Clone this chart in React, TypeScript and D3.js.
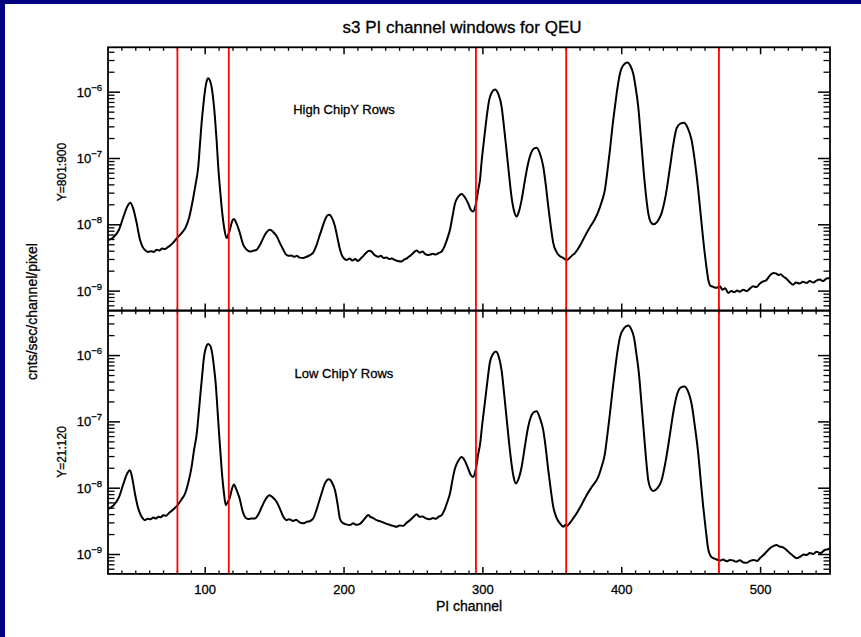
import React from "react";
import * as d3 from "d3";

// ---------- data ----------
const piDomain: [number, number] = [30, 550];
const yDomain: [number, number] = [5.1e-10, 4.75e-6];
const xTickValues = [100, 200, 300, 400, 500];
const yDecades = [-9, -8, -7, -6];
const windowEdges = [80, 117, 295, 360, 470];
const panelNames = ["High ChipY Rows", "Low ChipY Rows"];
const panelRowLabels = ["Y=801:900", "Y=21:120"];

// [PI channel, cnts/sec/channel/pixel] — High ChipY rows (Y=801:900)
const highChipY: [number, number][] = [
  [30, 5.9e-9], [34, 6.5e-9], [38, 8.5e-9], [41, 1.3e-8], [44, 1.9e-8], [46, 2.15e-8], [48, 1.8e-8],
  [50.5, 1.1e-8], [53, 6.0e-9], [55, 4.6e-9], [57, 4.1e-9], [59, 3.9e-9], [61, 4.0e-9], [63, 3.9e-9],
  [65, 4.2e-9], [67, 4.1e-9], [69, 4.4e-9], [71, 4.3e-9], [73, 4.6e-9], [75, 4.9e-9], [77, 5.4e-9],
  [80, 6.4e-9], [83, 7.5e-9], [86, 9.2e-9], [88.5, 1.3e-8], [91, 2.3e-8], [93, 4.0e-8], [95, 7.5e-8],
  [96.2, 1.6e-7], [97.4, 3.4e-7], [98.7, 6.5e-7], [99.9, 1.07e-6], [101, 1.45e-6], [102.2, 1.62e-6],
  [103.4, 1.5e-6], [104.6, 1.2e-6], [105.8, 7.8e-7], [107, 4.25e-7], [108.2, 1.9e-7], [109.4, 7.5e-8],
  [110.6, 3.6e-8], [111.8, 1.9e-8], [113.5, 9.5e-9], [115.4, 6.3e-9], [116.5, 7.0e-9], [117.8, 8.4e-9],
  [119.2, 1.1e-8], [120.7, 1.22e-8], [122.5, 1.05e-8], [124.6, 8.0e-9], [127.4, 5.0e-9], [129.5, 4.3e-9],
  [132.3, 3.95e-9], [134.5, 4.05e-9], [137, 4.2e-9], [139.5, 5.0e-9], [141.8, 6.3e-9], [144, 7.6e-9],
  [146.7, 8.4e-9], [149, 7.8e-9], [151.5, 6.7e-9], [154, 5.2e-9], [156.3, 4.2e-9], [158, 3.6e-9],
  [160, 3.4e-9], [162, 3.45e-9], [164, 3.3e-9], [166, 3.4e-9], [168, 3.2e-9], [170.6, 3.15e-9],
  [173, 3.3e-9], [175.5, 3.5e-9], [177.8, 3.8e-9], [180, 4.8e-9], [182, 6.5e-9], [183.8, 8.4e-9],
  [186, 1.15e-8], [188, 1.38e-8], [189.4, 1.42e-8], [191.5, 1.25e-8], [193.5, 9.4e-9], [195.5, 6.0e-9],
  [197, 4.3e-9], [199, 3.3e-9], [201.9, 2.95e-9], [204, 3.1e-9], [206, 2.9e-9], [208, 3.05e-9],
  [210, 2.85e-9], [212, 3.1e-9], [214, 3.4e-9], [216, 3.8e-9], [218.1, 4.05e-9], [220, 3.9e-9],
  [222, 3.5e-9], [224.6, 3.3e-9], [226.5, 3.4e-9], [228.5, 3.15e-9], [230.6, 3.2e-9], [232.5, 3.05e-9],
  [234.5, 3.1e-9], [236.5, 2.95e-9], [238.5, 2.85e-9], [241.4, 2.8e-9], [243.5, 3.0e-9], [245.5, 3.15e-9],
  [247.5, 3.4e-9], [249.5, 3.7e-9], [252.3, 4.1e-9], [254.5, 3.8e-9], [256.5, 3.95e-9], [258.5, 3.6e-9],
  [260.5, 3.5e-9], [262, 3.55e-9], [264, 3.65e-9], [266, 3.55e-9], [268, 3.75e-9], [270.3, 3.95e-9],
  [272.5, 4.8e-9], [274.5, 6.3e-9], [276.3, 8.4e-9], [278, 1.3e-8], [279.9, 2.1e-8], [282, 2.6e-8],
  [284.7, 2.92e-8], [287, 2.6e-8], [289.4, 2.1e-8], [291.2, 1.7e-8], [293, 1.58e-8], [294.8, 2.0e-8],
  [296.7, 3.4e-8], [297.9, 4.75e-8], [299.1, 9.0e-8], [300.8, 1.9e-7], [302.6, 4.0e-7], [304.5, 7.6e-7],
  [306.5, 1.0e-6], [308.7, 1.1e-6], [311, 9.5e-7], [313.5, 6.0e-7], [315.2, 3.0e-7], [317, 1.34e-7],
  [318.8, 5.8e-8], [320.6, 2.66e-8], [322.5, 1.6e-8], [324.3, 1.33e-8], [326, 1.6e-8], [327.9, 2.38e-8],
  [330.2, 4.6e-8], [332.6, 8.5e-8], [335, 1.25e-7], [337, 1.42e-7], [338.7, 1.45e-7], [341, 1.2e-7],
  [343.5, 7.5e-8], [345.3, 4.0e-8], [347.1, 1.88e-8], [348.9, 9.5e-9], [350.7, 5.3e-9], [353, 3.9e-9],
  [355.5, 3.35e-9], [357.5, 3.2e-9], [359, 3.05e-9], [360.3, 2.95e-9], [362, 3.1e-9], [364, 3.4e-9],
  [366.3, 3.75e-9], [369, 4.5e-9], [371.5, 5.6e-9], [374.7, 7.5e-9], [377.5, 9.5e-9], [380.5, 1.2e-8],
  [383.1, 1.58e-8], [385.5, 2.2e-8], [387.9, 3.4e-8], [389.7, 6.5e-8], [391.5, 1.34e-7], [393.3, 3.0e-7],
  [395.1, 6.0e-7], [396.9, 1.15e-6], [398.7, 1.9e-6], [401.5, 2.6e-6], [404.2, 2.8e-6], [406.2, 2.5e-6],
  [408.3, 1.9e-6], [410.1, 1.15e-6], [411.9, 6.0e-7], [413.7, 2.2e-7], [415.5, 7.5e-8], [417.3, 3.0e-8],
  [419.1, 1.5e-8], [420.9, 1.1e-8], [422.7, 1.02e-8], [425.7, 1.12e-8], [428.7, 1.5e-8], [431.7, 2.8e-8],
  [434.8, 7.5e-8], [437.1, 1.6e-7], [439.5, 2.84e-7], [442.2, 3.35e-7], [444.8, 3.45e-7], [447.5, 2.9e-7],
  [450.3, 1.9e-7], [452.7, 9.0e-8], [455.1, 3.36e-8], [456.9, 1.4e-8], [458.7, 5.95e-9], [460.5, 2.8e-9],
  [462.3, 1.5e-9], [464, 1.2e-9], [465.9, 1.16e-9], [468, 1.12e-9], [470.7, 1.18e-9], [472.5, 1.05e-9],
  [474.5, 1.1e-9], [476.7, 9.4e-10], [479, 1.0e-9], [481, 9.6e-10], [483, 1.02e-9], [485, 9.8e-10],
  [487.5, 1.05e-9], [490, 1.0e-9], [492.5, 1.1e-9], [494.7, 1.18e-9], [497, 1.15e-9], [499.5, 1.3e-9],
  [501.9, 1.4e-9], [504, 1.45e-9], [506.5, 1.7e-9], [509.1, 1.88e-9], [511, 1.85e-9], [513, 1.75e-9],
  [514.5, 1.8e-9], [516.2, 1.67e-9], [518.5, 1.55e-9], [520.5, 1.4e-9], [523.4, 1.25e-9], [525.5, 1.35e-9],
  [528, 1.3e-9], [530.5, 1.38e-9], [533.1, 1.33e-9], [535.5, 1.42e-9], [538, 1.35e-9], [540.5, 1.45e-9],
  [542.7, 1.49e-9], [545, 1.42e-9], [547.5, 1.55e-9], [550, 1.58e-9],
];

// [PI channel, cnts/sec/channel/pixel] — Low ChipY rows (Y=21:120)
const lowChipY: [number, number][] = [
  [30, 4.9e-9], [34, 5.5e-9], [38, 7.4e-9], [41, 1.15e-8], [44, 1.7e-8], [45.8, 1.87e-8], [47.5, 1.4e-8],
  [49.4, 8.3e-9], [51.2, 5.5e-9], [53, 4.2e-9], [55, 3.5e-9], [56.6, 3.3e-9], [58.5, 3.45e-9], [60.5, 3.4e-9],
  [62.6, 3.6e-9], [64.5, 3.5e-9], [66.5, 3.7e-9], [68, 3.65e-9], [69.8, 3.9e-9], [72, 3.85e-9], [73.8, 4.2e-9],
  [75.8, 4.55e-9], [78, 5.0e-9], [80.1, 5.55e-9], [83, 6.8e-9], [85.5, 8.3e-9], [88, 1.25e-8], [90.2, 2.1e-8],
  [92, 3.8e-8], [93.9, 6.6e-8], [95.4, 1.4e-7], [96.8, 2.98e-7], [98, 5.5e-7], [99.1, 9.4e-7], [100.7, 1.35e-6],
  [102.2, 1.5e-6], [103.7, 1.4e-6], [105.1, 1.06e-6], [106.4, 6.5e-7], [107.6, 3.75e-7], [108.8, 1.6e-7],
  [110, 6.65e-8], [111.2, 3.0e-8], [112.3, 1.48e-8], [113.5, 8.5e-9], [114.8, 5.55e-9], [116.3, 6.2e-9],
  [117.9, 7.4e-9], [119.3, 9.8e-9], [120.7, 1.14e-8], [122.5, 9.5e-9], [124.6, 7.2e-9], [127.4, 4.2e-9],
  [129, 3.6e-9], [131, 3.42e-9], [133.5, 3.5e-9], [135.8, 3.5e-9], [138.2, 4.0e-9], [140.7, 5.2e-9],
  [143.5, 6.8e-9], [146.2, 7.85e-9], [148.8, 7.2e-9], [151.5, 6.2e-9], [154, 4.8e-9], [156.3, 3.7e-9],
  [158.5, 3.3e-9], [160.5, 3.4e-9], [163.4, 3.2e-9], [165.5, 3.35e-9], [167.5, 3.1e-9], [170.6, 2.95e-9],
  [173, 3.1e-9], [175.5, 3.2e-9], [177.8, 3.5e-9], [180, 4.6e-9], [182, 6.3e-9], [183.8, 8.3e-9],
  [186, 1.15e-8], [189.2, 1.36e-8], [191.5, 1.2e-8], [193.5, 9.3e-9], [195.5, 5.5e-9], [197, 3.5e-9],
  [199, 3.0e-9], [201.5, 2.85e-9], [204.3, 2.78e-9], [206.5, 2.95e-9], [209, 2.8e-9], [211.5, 2.9e-9],
  [213.5, 3.2e-9], [215.5, 3.6e-9], [217.4, 3.95e-9], [219, 3.7e-9], [221, 3.55e-9], [223.4, 3.3e-9],
  [225.5, 3.2e-9], [228, 3.05e-9], [230.6, 2.9e-9], [233, 2.8e-9], [235.5, 2.7e-9], [237.8, 2.62e-9],
  [240, 2.75e-9], [242.5, 2.7e-9], [245, 3.0e-9], [247.5, 3.3e-9], [250, 3.7e-9], [252.3, 4.05e-9],
  [254.5, 3.7e-9], [256.5, 3.75e-9], [259, 3.5e-9], [261.9, 3.4e-9], [264, 3.55e-9], [266, 3.45e-9],
  [268, 3.7e-9], [270.3, 3.93e-9], [272.5, 4.8e-9], [274.5, 6.3e-9], [276.3, 8.3e-9], [278, 1.3e-8],
  [279.9, 1.98e-8], [282.3, 2.6e-8], [284.7, 2.96e-8], [287, 2.6e-8], [289.4, 1.98e-8], [291.2, 1.6e-8],
  [293, 1.48e-8], [294.8, 1.9e-8], [296.7, 3.33e-8], [297.9, 4.5e-8], [299.6, 9.5e-8], [301.5, 2.0e-7],
  [303.3, 4.2e-7], [305.1, 8.0e-7], [307.2, 1.05e-6], [309.4, 1.15e-6], [311.5, 9.5e-7], [313.5, 5.95e-7],
  [315.2, 2.8e-7], [317, 1.18e-7], [318.8, 5.0e-8], [320.6, 2.35e-8], [322.2, 1.45e-8], [323.8, 1.18e-8],
  [325.8, 1.4e-8], [327.9, 2.09e-8], [330.2, 4.2e-8], [332.6, 8.35e-8], [335, 1.25e-7], [337, 1.42e-7],
  [338.7, 1.45e-7], [341, 1.15e-7], [343.5, 7.45e-8], [345.3, 4.0e-8], [347.1, 1.87e-8], [348.9, 9.5e-9],
  [350.7, 5.24e-9], [353, 3.6e-9], [355.5, 2.94e-9], [357.9, 2.62e-9], [359.5, 2.8e-9], [360.5, 2.7e-9],
  [362.7, 3.0e-9], [365, 3.5e-9], [367.5, 4.17e-9], [371, 5.6e-9], [374.7, 7.85e-9], [378.5, 1.05e-8],
  [383.1, 1.48e-8], [385.5, 2.1e-8], [387.9, 3.33e-8], [389.7, 6.5e-8], [391.5, 1.33e-7], [393.3, 2.9e-7],
  [395.1, 5.95e-7], [396.9, 1.15e-6], [398.7, 1.88e-6], [401.7, 2.6e-6], [404.7, 2.83e-6], [406.8, 2.5e-6],
  [408.8, 1.88e-6], [410.6, 1.05e-6], [412.4, 5.3e-7], [414.2, 1.9e-7], [416, 6.65e-8], [417.5, 2.8e-8],
  [419.1, 1.32e-8], [420.9, 9.8e-9], [422.7, 9.1e-9], [425.7, 1.0e-8], [428.7, 1.32e-8], [431.7, 2.6e-8],
  [434.8, 6.65e-8], [437.4, 1.5e-7], [440, 2.65e-7], [442.5, 3.3e-7], [445, 3.42e-7], [447.7, 2.9e-7],
  [450.3, 1.88e-7], [452.7, 8.5e-8], [455.1, 3.33e-8], [456.9, 1.3e-8], [458.7, 5.24e-9], [460.5, 2.4e-9],
  [462.3, 1.2e-9], [464, 9.5e-10], [465.9, 8.8e-10], [468, 8.5e-10], [470.7, 8.1e-10], [473, 8.4e-10],
  [475.5, 7.9e-10], [478, 8.3e-10], [480.3, 8.1e-10], [482.5, 7.8e-10], [485, 8.2e-10], [487.5, 7.6e-10],
  [489.9, 7.5e-10], [492.5, 8.0e-10], [495, 8.3e-10], [497.5, 8.0e-10], [499.5, 8.8e-10], [502, 9.8e-10],
  [504.3, 1.1e-9], [507, 1.25e-9], [509.5, 1.35e-9], [511.5, 1.39e-9], [513.5, 1.32e-9], [515.5, 1.3e-9],
  [518.7, 1.17e-9], [521, 1.05e-9], [523.5, 9.5e-10], [525.9, 8.8e-10], [528.5, 9.2e-10], [531, 1.0e-9],
  [533.1, 9.8e-10], [535.5, 1.05e-9], [538, 1.02e-9], [540.3, 1.1e-9], [543, 1.05e-9], [546.3, 1.17e-9],
  [548.5, 1.2e-9], [550, 1.24e-9],
];

const panelSeries = [highChipY, lowChipY];

// ---------- layout ----------
const W = 861;
const H = 637;
const LEFT = 108;
const RIGHT = 830;
const PANEL_TOPS = [47.3, 310.7];
const PANEL_H = 263.2;
const FONT = "'Liberation Sans', Arial, Helvetica, sans-serif";
const ROW_LABEL_Y = [172, 452];
const NAME_Y = [114, 378];
const TXT = { fill: "#000", stroke: "#000", strokeWidth: 0.3 };

export default function App() {
  const x = d3.scaleLinear().domain(piDomain).range([LEFT, RIGHT]);

  const xMinor = d3.range(piDomain[0] + 10, piDomain[1], 10).filter((v) => v % 100 !== 0);
  const yMinor: number[] = [];
  for (let d = -10; d <= -5; d++) {
    for (let k = 2; k <= 9; k++) {
      const v = k * Math.pow(10, d);
      if (v > yDomain[0] && v < yDomain[1]) yMinor.push(v);
    }
  }

  const axisW = 1.8;

  return (
    <svg
      width={W}
      height={H}
      style={{ position: "absolute", left: 0, top: 0, background: "#fff" }}
      fontFamily={FONT}
    >
      <rect x={0} y={0} width={W} height={H} fill="#ffffff" />
      <rect x={0} y={0} width={5} height={H} fill="#000080" />
      <rect x={0} y={0} width={W} height={4} fill="#000080" />

      <text x={462} y={33} fontSize={17} textAnchor="middle" {...TXT}>
        s3 PI channel windows for QEU
      </text>

      {panelSeries.map((series, pi) => {
        const top = PANEL_TOPS[pi];
        const bottom = top + PANEL_H;
        const y = d3.scaleLog().domain(yDomain).range([bottom, top]);
        const line = d3
          .line<[number, number]>()
          .x((d) => x(d[0]))
          .y((d) => y(d[1]))
          .curve(d3.curveMonotoneX);
        return (
          <g key={pi}>
            <defs>
              <clipPath id={`clip${pi}`}>
                <rect x={LEFT} y={top} width={RIGHT - LEFT} height={PANEL_H} />
              </clipPath>
            </defs>
            <path
              d={line(series) || ""}
              fill="none"
              stroke="#000"
              strokeWidth={2}
              strokeLinejoin="round"
              clipPath={`url(#clip${pi})`}
            />
            {xTickValues.map((v) => (
              <g key={`xm${v}`} stroke="#000" strokeWidth={1.5}>
                <line x1={x(v)} x2={x(v)} y1={top} y2={top + 7} />
                <line x1={x(v)} x2={x(v)} y1={bottom} y2={bottom - 7} />
              </g>
            ))}
            {xMinor.map((v) => (
              <g key={`xn${v}`} stroke="#000" strokeWidth={1.3}>
                <line x1={x(v)} x2={x(v)} y1={top} y2={top + 3.5} />
                <line x1={x(v)} x2={x(v)} y1={bottom} y2={bottom - 3.5} />
              </g>
            ))}
            {yDecades.map((d) => {
              const yy = y(Math.pow(10, d));
              return (
                <g key={`ym${d}`}>
                  <line x1={LEFT} x2={LEFT + 12} y1={yy} y2={yy} stroke="#000" strokeWidth={1.5} />
                  <line x1={RIGHT} x2={RIGHT - 12} y1={yy} y2={yy} stroke="#000" strokeWidth={1.5} />
                  <text x={102} y={yy + 4.5} fontSize={13} textAnchor="end" {...TXT}>
                    <tspan>10</tspan>
                    <tspan fontSize={9.5} dy={-6}>{`\u2212${-d}`}</tspan>
                  </text>
                </g>
              );
            })}
            {yMinor.map((v, i) => {
              const yy = y(v);
              return (
                <g key={`yn${i}`} stroke="#000" strokeWidth={1.3}>
                  <line x1={LEFT} x2={LEFT + 6.5} y1={yy} y2={yy} />
                  <line x1={RIGHT} x2={RIGHT - 6.5} y1={yy} y2={yy} />
                </g>
              );
            })}
            <text x={344} y={NAME_Y[pi]} fontSize={13} textAnchor="middle" {...TXT}>
              {panelNames[pi]}
            </text>
            <text
              transform={`translate(66,${ROW_LABEL_Y[pi]}) rotate(-90)`}
              fontSize={12}
              textAnchor="middle"
              {...TXT}
            >
              {panelRowLabels[pi]}
            </text>
          </g>
        );
      })}

      {windowEdges.map((v) => (
        <line
          key={`w${v}`}
          x1={x(v)}
          x2={x(v)}
          y1={PANEL_TOPS[0]}
          y2={PANEL_TOPS[1] + PANEL_H}
          stroke="#ff0000"
          strokeWidth={1.8}
        />
      ))}

      {PANEL_TOPS.map((t, i) => (
        <rect
          key={`f${i}`}
          x={LEFT}
          y={t}
          width={RIGHT - LEFT}
          height={PANEL_H}
          fill="none"
          stroke="#000"
          strokeWidth={axisW}
        />
      ))}

      {xTickValues.map((v) => (
        <text key={`xl${v}`} x={x(v)} y={594} fontSize={13} textAnchor="middle" {...TXT}>
          {v}
        </text>
      ))}
      <text x={469} y={611} fontSize={14} textAnchor="middle" {...TXT}>
        PI channel
      </text>
      <text
        transform={`translate(37,311.5) rotate(-90)`}
        fontSize={14}
        textAnchor="middle"
        {...TXT}
      >
        cnts/sec/channel/pixel
      </text>
    </svg>
  );
}
